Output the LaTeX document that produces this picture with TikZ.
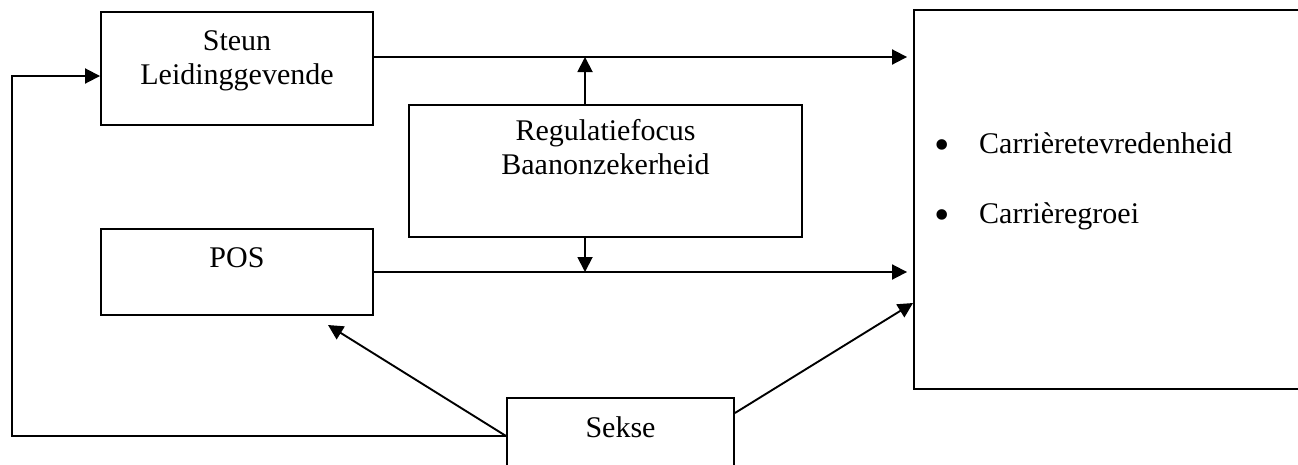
\documentclass[tikz,border=0pt]{standalone}
\usepackage{fontspec}
\setmainfont{Liberation Serif}
\usetikzlibrary{arrows.meta}
\newcommand{\bigbul}{\makebox[45pt][l]{\raisebox{-6pt}{\fontsize{44}{34}\selectfont •}}}
\begin{document}
\begin{tikzpicture}[x=1pt,y=-1pt,
  box/.style={draw,line width=1.9pt,rectangle,inner sep=0pt},
  lbl/.style={inner sep=0pt,anchor=base,align=center,font=\fontsize{30}{34}\selectfont},
  arr/.style={line width=1.9pt,-{Triangle[length=15pt,width=15pt]}},
  ln/.style={line width=1.9pt}]
\useasboundingbox (0,0) rectangle (1298,464);
\clip (0,0) rectangle (1298,464);
% boxes
\node[box,minimum width=272pt,minimum height=113pt] (steun) at (237,68.5) {};
\node[box,minimum width=393pt,minimum height=132pt] (reg) at (605.5,171) {};
\node[box,minimum width=272pt,minimum height=86pt] (pos) at (237,272) {};
\node[box,minimum width=227pt,minimum height=76pt] (sekse) at (620.5,436) {};
\node[box,minimum width=396pt,minimum height=379pt] (out) at (1112,199.5) {};
% texts
\node[lbl] (tsteun) at (237,84) {Steun\\Leidinggevende};
\node[lbl] (treg) at (605.5,174) {Regulatiefocus\\Baanonzekerheid};
\node[lbl] (tpos) at (237,267) {POS};
\node[lbl] (tsekse) at (620.5,437) {Sekse};
\node[lbl,anchor=base west] (t1) at (934,153) {\bigbul Carrièretevredenheid};
\node[lbl,anchor=base west] (t2) at (934,223) {\bigbul Carrièregroei};
% connectors
\coordinate (a) at ([yshift=11.5pt]steun.east);
\draw[arr,shorten >=6pt] (a) -- (a -| out.west);
\coordinate (ru) at ([xshift=-20.5pt]reg.north);
\draw[arr] (ru) -- (ru |- a);
\draw[arr,shorten >=6pt] (pos.east) -- (pos.east -| out.west);
\coordinate (rd) at ([xshift=-20.5pt]reg.south);
\draw[arr] (rd) -- (rd |- pos.east);
\coordinate (posin) at (328,325);
\draw[arr] (sekse.west) -- (posin);
\coordinate (c1) at (12,436);
\coordinate (c2) at (12,76);
\draw[arr,line join=miter] (sekse.west) -- (c1) -- (c2) -- (c2 -| steun.west);
\draw[arr] ([yshift=23pt]sekse.east) -- ([yshift=-103.5pt]out.west);
\end{tikzpicture}
\end{document}
